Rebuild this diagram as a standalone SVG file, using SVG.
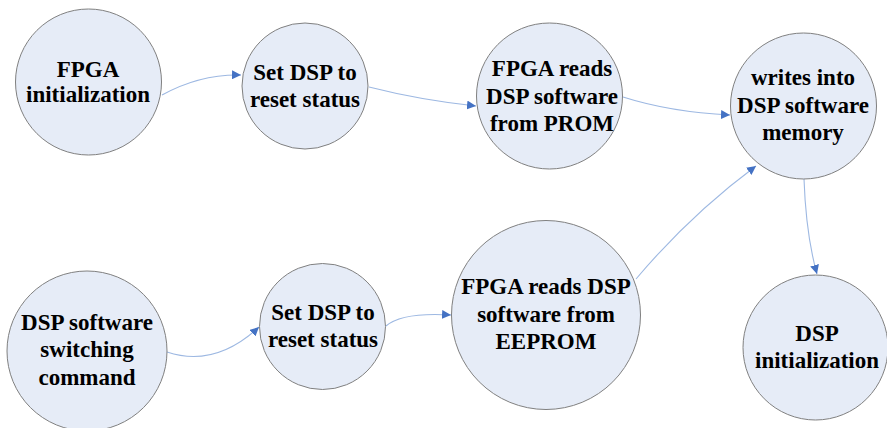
<svg xmlns="http://www.w3.org/2000/svg" width="887" height="428" viewBox="0 0 887 428">
<style>
.n{fill:#E6ECF7;stroke:#808080;stroke-width:1}
.t{font-weight:bold;font-size:23px;fill:#000;text-anchor:middle}
.c{fill:none;stroke:#9DB8E2;stroke-width:1.1;marker-end:url(#ah)}
</style>
<defs>
<marker id="ah" markerUnits="userSpaceOnUse" markerWidth="10" markerHeight="9" refX="9" refY="4.5" orient="auto">
<path d="M0,0 L9,4.5 L0,9 Z" fill="#4472C4"/>
</marker>
</defs>
<rect width="887" height="428" fill="#fff"/>
<g id="connectors">
<path class="c" d="M162,95 Q200,74 241,75"/>
<path class="c" d="M369,87 Q420,100 476,106"/>
<path class="c" d="M623,97 Q670,112 730,115"/>
<path class="c" d="M636,279 Q690,215 756,166"/>
<path class="c" d="M804,179 Q806,235 817,274"/>
<path class="c" d="M167,352 Q215,368 259,327"/>
<path class="c" d="M386,326 Q402,312 451,315"/>
</g>
<g font-family="Liberation Serif, DejaVu Serif, serif">
<g id="n1"><circle class="n" cx="88.5" cy="82" r="73"/>
<text class="t" x="88" y="77">FPGA</text><text class="t" x="88" y="102">initialization</text></g>
<g id="n2"><circle class="n" cx="305" cy="86" r="63"/>
<text class="t" x="305" y="80">Set DSP to</text><text class="t" x="305" y="107">reset status</text></g>
<g id="n3"><circle class="n" cx="549.5" cy="96" r="73"/>
<text class="t" x="552" y="76">FPGA reads</text><text class="t" x="552" y="104">DSP software</text><text class="t" x="552" y="131">from PROM</text></g>
<g id="n4"><circle class="n" cx="803.5" cy="106" r="73"/>
<text class="t" x="803" y="85">writes into</text><text class="t" x="803" y="113">DSP software</text><text class="t" x="803" y="140">memory</text></g>
<g id="n5"><circle class="n" cx="87" cy="351" r="80"/>
<text class="t" x="87" y="330">DSP software</text><text class="t" x="87" y="357">switching</text><text class="t" x="87" y="385">command</text></g>
<g id="n6"><circle class="n" cx="322.5" cy="326.5" r="63"/>
<text class="t" x="323" y="320">Set DSP to</text><text class="t" x="323" y="347">reset status</text></g>
<g id="n7"><circle class="n" cx="546" cy="315" r="94.5"/>
<text class="t" x="546" y="294">FPGA reads DSP</text><text class="t" x="546" y="322">software from</text><text class="t" x="546" y="349">EEPROM</text></g>
<g id="n8"><circle class="n" cx="815.5" cy="347.5" r="72.5"/>
<text class="t" x="817" y="341">DSP</text><text class="t" x="817" y="368">initialization</text></g>
</g>
</svg>
